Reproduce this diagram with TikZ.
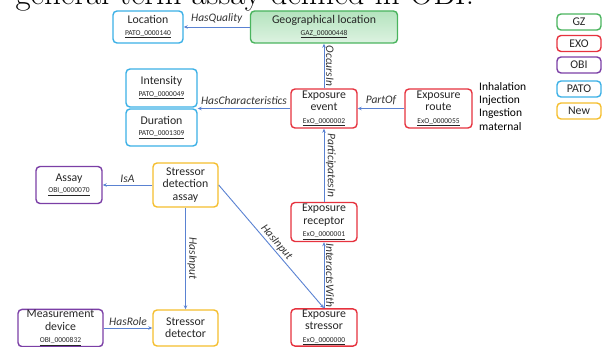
\documentclass[tikz,border=0pt]{standalone}
\usepackage{fontspec}
\setsansfont{Carlito}
\usepackage{tikz}
\usetikzlibrary{arrows.meta}
\definecolor{gzgreen}{HTML}{4AB45E}
\definecolor{gzfillA}{HTML}{B4E3BE}
\definecolor{gzfillB}{HTML}{DDF3E1}
\definecolor{exored}{HTML}{E6323E}
\definecolor{obipurple}{HTML}{7B3FA6}
\definecolor{patoblue}{HTML}{3BB0E6}
\definecolor{newyellow}{HTML}{F5BE2E}
\definecolor{relblue}{HTML}{5A82D2}
\newcommand{\idtext}[1]{{\fontsize{7.5}{8}\selectfont\underline{#1}}}

\begin{document}
\begin{tikzpicture}[x=1pt, y=-1pt,
    box/.style={draw, rounded corners=4pt, line width=1.4pt, fill=white, align=center, inner sep=1pt,
        font=\sffamily\fontsize{11.8}{12.3}\selectfont, text=black!85},
    gz/.style={box, draw=gzgreen, top color=gzfillA, bottom color=gzfillB},
    exo/.style={box, draw=exored},
    obi/.style={box, draw=obipurple},
    pato/.style={box, draw=patoblue},
    new/.style={box, draw=newyellow},
    key/.style={minimum width=44pt, minimum height=16pt},
    rel/.style={draw=relblue, line width=0.9pt, -{Stealth[length=4pt, width=3.5pt]}},
    lbl/.style={font=\sffamily\itshape\fontsize{11.5}{12}\selectfont, text=black!80, inner sep=1.5pt}]
    \useasboundingbox (0,0) rectangle (605,347);

    \node(title)[anchor=base west, font=\fontsize{33}{35}\selectfont] at (12,5) {general term assay defined in OBI.};

    \node(location)[pato, minimum width=70pt, minimum height=32pt] at (148,27) {Location\\[-1pt]\idtext{PATO\_0000140}};
    \node(geo)[gz, minimum width=147pt, minimum height=32pt] at (324,27) {Geographical location\\[-1pt]\idtext{GAZ\_00000448}};
    \node(intensity)[pato, minimum width=71pt, minimum height=38pt] at (161.5,88) {Intensity\\[-1pt]\idtext{PATO\_0000049}};
    \node(duration)[pato, minimum width=71pt, minimum height=37pt] at (161.5,127.5) {Duration\\[-1pt]\idtext{PATO\_0001309}};
    \node(event)[exo, minimum width=66pt, minimum height=39pt] at (324,108.5) {Exposure\\event\\\idtext{ExO\_0000002}};
    \node(route)[exo, minimum width=67pt, minimum height=39pt] at (438.5,108.5) {Exposure\\route\\\idtext{ExO\_0000055}};
    \node(routes)[anchor=north west, align=left, inner sep=0pt, font=\sffamily\fontsize{11.5}{13.4}\selectfont] at (479,82) {Inhalation\\Injection\\Ingestion\\maternal};

    \node(sda)[new, minimum width=65pt, minimum height=44pt] at (185.5,185) {Stressor\\detection\\assay};
    \node(assay)[obi, minimum width=66pt, minimum height=37pt] at (69,185) {Assay\\[-1pt]\idtext{OBI\_0000070}};
    \node(receptor)[exo, minimum width=66pt, minimum height=39pt] at (324,222) {Exposure\\receptor\\\idtext{ExO\_0000001}};
    \node(stressor)[exo, minimum width=66pt, minimum height=37pt] at (324,327.5) {Exposure\\stressor\\\idtext{ExO\_0000000}};
    \node(detector)[new, minimum width=65pt, minimum height=36pt] at (185.5,328) {Stressor\\detector};
    \node(device)[obi, minimum width=85pt, minimum height=36pt] at (60.5,328) {Measurement\\device\\\idtext{OBI\_0000832}};

    \node(kgz)[gz, key, top color=white, bottom color=white] at (579,22) {GZ};
    \node(kexo)[exo, key] at (579,43.5) {EXO};
    \node(kobi)[obi, key] at (579,65) {OBI};
    \node(kpato)[pato, key] at (579,89) {PATO};
    \node(knew)[new, key] at (579,111) {New};

    \draw[rel] (geo) -- (location) node[lbl, above, midway, yshift=2pt] {HasQuality};
    \draw[rel] (event) -- (geo) node[lbl, midway, rotate=-90, anchor=south] {OccursIn};
    \draw[rel] (event.west) -- (event.west -| intensity.east) node[lbl, above, midway, yshift=2pt] {HasCharacteristics};
    \draw[rel] (route) -- (event) node[lbl, above, midway, yshift=2pt] {PartOf};
    \draw[rel] (receptor) -- (event) node[lbl, midway, rotate=-90, anchor=south] {ParticipatesIn};
    \draw[rel] (stressor) -- (receptor) node[lbl, midway, rotate=-90, anchor=south] {InteractsWith};
    \draw[rel] (sda) -- (assay) node[lbl, above, midway] {IsA};
    \draw[rel] (sda) -- (detector) node[lbl, midway, rotate=-90, anchor=south] {HasInput};
    \draw[rel] (sda.east) -- (stressor.north) node[lbl, midway, above, sloped] {HasInput};
    \draw[rel] (device) -- (detector) node[lbl, above, midway] {HasRole};
\end{tikzpicture}
\end{document}
